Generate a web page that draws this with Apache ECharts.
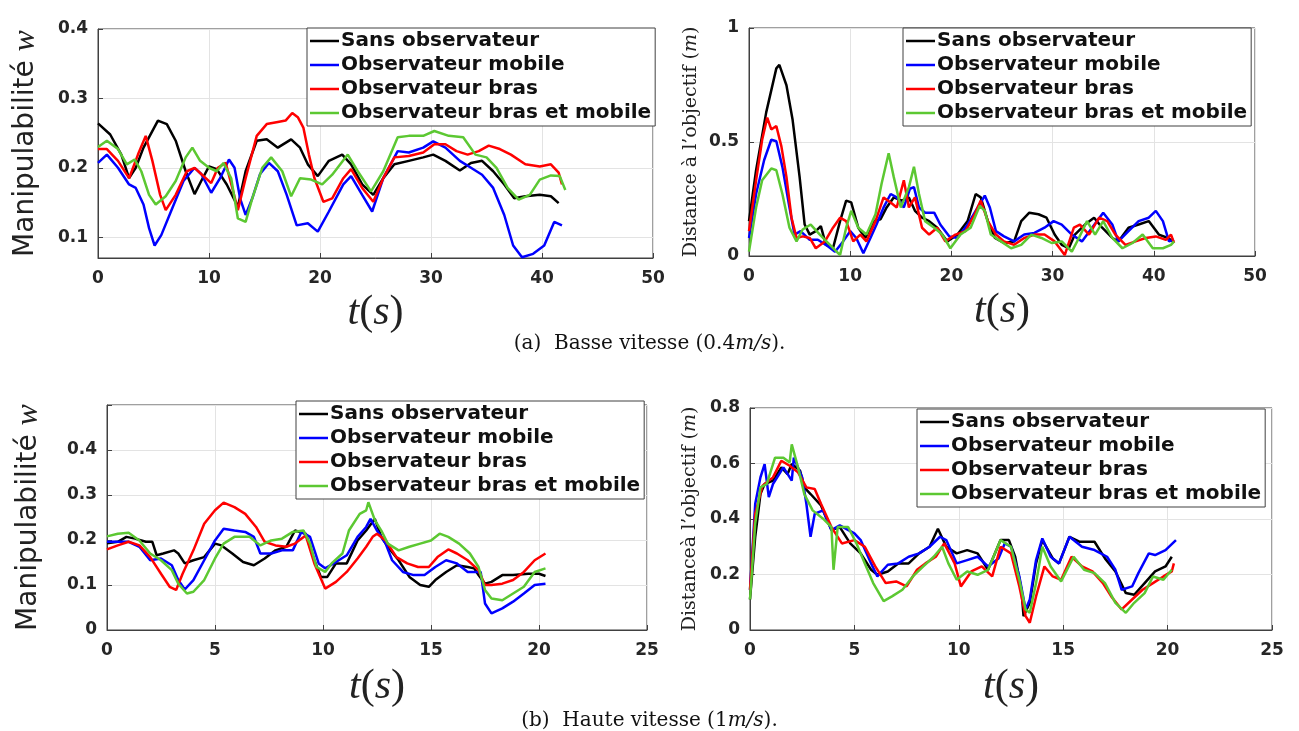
<!DOCTYPE html>
<html>
<head>
<meta charset="utf-8">
<script src="https://cdn.jsdelivr.net/npm/echarts@6/dist/echarts.min.js"></script>
<style>
html,body{margin:0;padding:0;background:#fff;}
#chart{width:1299px;height:731px;}
</style>
</head>
<body>
<div id="chart"></div>
<script>
// ---------- names ----------
const seriesNames = ['Sans observateur', 'Observateur mobile', 'Observateur bras', 'Observateur bras et mobile'];
const seriesColors = ['#000000', '#0000ff', '#ff0000', '#5cc832'];

// ---------- (a) low speed : manipulability ----------
const a1Sans = [[0,0.264],[1.1,0.248],[2.1,0.219],[2.8,0.185],[3.4,0.2],[4.1,0.229],[5.4,0.268],[6.2,0.263],[7.0,0.239],[7.9,0.195],[8.7,0.162],[9.3,0.181],[10,0.202],[10.7,0.198],[11.6,0.176],[12.6,0.144],[13.3,0.195],[14.3,0.239],[15.2,0.241],[16.2,0.229],[17.4,0.241],[18.2,0.229],[18.9,0.205],[19.8,0.188],[20.8,0.21],[22,0.219],[22.8,0.205],[23.8,0.176],[24.8,0.161],[25.7,0.185],[26.7,0.205],[28,0.21],[29.3,0.215],[30.2,0.219],[31.3,0.21],[32.6,0.196],[33.6,0.207],[34.6,0.21],[35.6,0.195],[36.6,0.176],[37.5,0.156],[38.5,0.159],[39.8,0.161],[40.8,0.159],[41.5,0.149]];
const a1Mobile = [[0,0.207],[0.8,0.219],[1.8,0.2],[2.8,0.176],[3.4,0.171],[4.1,0.147],[4.6,0.113],[5.1,0.088],[5.7,0.103],[6.7,0.142],[7.7,0.181],[8.7,0.2],[9.3,0.191],[10.2,0.164],[11,0.185],[11.8,0.212],[12.3,0.2],[12.8,0.156],[13.3,0.132],[13.9,0.156],[14.6,0.191],[15.4,0.207],[16.2,0.195],[17,0.161],[17.9,0.117],[18.9,0.12],[19.8,0.108],[20.8,0.137],[22.1,0.176],[22.8,0.188],[23.8,0.161],[24.7,0.137],[25.7,0.185],[27,0.224],[28,0.222],[29.3,0.229],[30.2,0.238],[31.3,0.229],[32.6,0.21],[33.6,0.2],[34.6,0.19],[35.6,0.171],[36.6,0.132],[37.4,0.088],[38.2,0.071],[39.2,0.076],[40.2,0.088],[41.1,0.122],[41.8,0.117]];
const a1Bras = [[0,0.227],[0.8,0.227],[1.8,0.21],[2.8,0.185],[3.6,0.219],[4.3,0.246],[4.9,0.21],[5.6,0.161],[6.1,0.139],[7,0.161],[8,0.195],[8.7,0.2],[9.3,0.191],[10.2,0.178],[10.8,0.2],[11.5,0.207],[12.1,0.171],[12.6,0.139],[13.3,0.185],[14.3,0.246],[15.2,0.263],[16.2,0.266],[16.9,0.268],[17.5,0.279],[18,0.273],[18.5,0.258],[19,0.219],[19.5,0.185],[20.3,0.151],[21.1,0.156],[22.1,0.185],[22.8,0.198],[23.8,0.171],[24.8,0.151],[25.7,0.185],[26.7,0.215],[28,0.217],[29.3,0.222],[30.3,0.234],[31.3,0.234],[32.3,0.224],[33.3,0.219],[34.3,0.224],[35.2,0.232],[36.2,0.227],[37.2,0.219],[38.5,0.205],[39.8,0.202],[40.8,0.205],[41.5,0.193],[41.8,0.176]];
const a1Both = [[0,0.23],[0.8,0.239],[1.8,0.227],[2.6,0.205],[3.3,0.212],[3.9,0.195],[4.6,0.161],[5.2,0.147],[6.1,0.159],[7,0.181],[7.9,0.215],[8.5,0.229],[9.2,0.21],[10,0.2],[10.7,0.195],[11.3,0.207],[12,0.185],[12.6,0.127],[13.3,0.122],[13.9,0.156],[14.8,0.2],[15.6,0.215],[16.6,0.195],[17.4,0.159],[18.2,0.185],[19.2,0.183],[20.2,0.176],[21.1,0.19],[22.5,0.219],[23.4,0.195],[24.6,0.166],[25.7,0.195],[27,0.244],[28,0.246],[29.3,0.246],[30.3,0.253],[31.6,0.246],[32.9,0.244],[34,0.219],[35,0.215],[35.9,0.2],[36.9,0.171],[37.9,0.154],[38.9,0.161],[39.8,0.183],[40.8,0.189],[41.6,0.188],[42.1,0.168]];

// ---------- (a) low speed : distance ----------
const a2Sans = [[0,0.153],[0.7,0.376],[1.7,0.63],[2.7,0.823],[3,0.838],[3.7,0.749],[4.3,0.6],[5,0.347],[5.5,0.138],[6,0.094],[6.6,0.109],[7.1,0.131],[7.6,0.049],[8.3,0.034],[9,0.153],[9.6,0.243],[10.1,0.235],[10.8,0.124],[11.5,0.079],[12.3,0.153],[13,0.161],[13.6,0.213],[14.3,0.257],[15.1,0.243],[15.8,0.257],[16.4,0.198],[17.1,0.168],[17.8,0.153],[18.6,0.124],[19.6,0.064],[20.6,0.094],[21.6,0.153],[22.4,0.272],[22.9,0.257],[23.6,0.153],[24.3,0.079],[25.2,0.057],[26.2,0.064],[26.9,0.153],[27.7,0.19],[28.6,0.183],[29.4,0.168],[30.2,0.094],[30.9,0.049],[31.6,0.034],[32.2,0.094],[33.2,0.138],[34.1,0.168],[34.9,0.124],[35.9,0.079],[36.5,0.064],[37.5,0.124],[38.5,0.138],[39.5,0.153],[40.5,0.094],[41.4,0.079],[41.9,0.064]];
const a2Mobile = [[0,0.079],[0.7,0.272],[1.5,0.421],[2.2,0.51],[2.7,0.503],[3.3,0.391],[4,0.213],[4.5,0.094],[5.1,0.109],[6,0.071],[6.8,0.071],[7.6,0.049],[8.5,0.019],[9.3,0.064],[10,0.109],[10.6,0.079],[11.3,0.012],[12,0.079],[12.6,0.138],[13.3,0.213],[14,0.272],[14.6,0.257],[15.3,0.213],[15.9,0.295],[16.3,0.302],[16.8,0.213],[17.4,0.19],[18.3,0.19],[18.9,0.138],[19.8,0.086],[20.6,0.079],[21.6,0.138],[22.6,0.213],[23.3,0.265],[23.8,0.213],[24.4,0.109],[25.2,0.086],[26.2,0.064],[27.2,0.094],[28.2,0.101],[29.2,0.124],[30.1,0.153],[30.9,0.138],[31.9,0.094],[32.9,0.064],[33.9,0.124],[35,0.19],[35.9,0.138],[36.5,0.064],[37.5,0.109],[38.5,0.153],[39.5,0.168],[40.2,0.198],[40.9,0.153],[41.5,0.064],[42,0.071]];
const a2Bras = [[0,0.109],[0.7,0.332],[1.3,0.51],[1.8,0.607],[2.2,0.555],[2.7,0.57],[3.2,0.481],[3.7,0.347],[4.2,0.168],[4.7,0.079],[5.3,0.086],[6,0.079],[6.6,0.034],[7.5,0.064],[8.3,0.124],[9,0.168],[9.6,0.153],[10.3,0.064],[11,0.094],[11.6,0.064],[12.5,0.153],[13.3,0.257],[14,0.235],[14.6,0.213],[15.3,0.332],[15.8,0.213],[16.4,0.257],[17.1,0.124],[17.8,0.094],[18.6,0.124],[19.4,0.064],[20.4,0.094],[21.4,0.109],[22.3,0.183],[22.9,0.243],[23.6,0.153],[24.4,0.094],[25.2,0.064],[26.2,0.049],[27.2,0.079],[28.2,0.094],[29.2,0.094],[30.2,0.064],[31.2,0.004],[32.1,0.124],[32.7,0.138],[33.6,0.094],[34.6,0.168],[35.4,0.153],[36.2,0.094],[37.2,0.049],[38.2,0.064],[39.2,0.079],[40.2,0.086],[41.2,0.071],[41.7,0.094],[42,0.057]];
const a2Both = [[0,0.019],[0.7,0.213],[1.3,0.332],[2.2,0.384],[2.7,0.376],[3.3,0.272],[4,0.124],[4.7,0.064],[5.3,0.116],[6.1,0.138],[7,0.094],[8,0.049],[9,0.004],[9.6,0.124],[10.1,0.198],[10.8,0.124],[11.6,0.094],[12.5,0.183],[13.1,0.317],[13.8,0.451],[14.3,0.347],[15,0.213],[15.8,0.302],[16.3,0.391],[16.8,0.272],[17.4,0.153],[18.3,0.124],[19.1,0.094],[19.9,0.034],[20.9,0.094],[21.9,0.124],[22.8,0.22],[23.3,0.198],[23.9,0.094],[24.9,0.064],[25.9,0.034],[26.9,0.049],[27.9,0.094],[28.9,0.079],[29.9,0.057],[30.9,0.064],[31.9,0.019],[32.6,0.079],[33.4,0.153],[34.2,0.094],[35,0.153],[35.9,0.079],[36.9,0.034],[37.9,0.057],[38.9,0.094],[39.9,0.034],[40.9,0.034],[41.7,0.049],[42,0.064]];

// ---------- (b) high speed : manipulability ----------
const b1Sans = [[0,0.193],[0.5,0.196],[0.9,0.207],[1.3,0.203],[1.8,0.196],[2.1,0.196],[2.3,0.166],[2.6,0.17],[3.1,0.177],[3.3,0.17],[3.6,0.148],[4,0.155],[4.5,0.162],[5,0.192],[5.3,0.188],[5.8,0.17],[6.3,0.151],[6.8,0.144],[7.3,0.159],[7.8,0.177],[8.3,0.185],[8.7,0.221],[9.2,0.214],[9.6,0.155],[9.9,0.118],[10.2,0.118],[10.6,0.148],[11.1,0.148],[11.6,0.199],[12.0,0.221],[12.4,0.247],[12.7,0.207],[13,0.185],[13.5,0.155],[14,0.118],[14.5,0.1],[14.9,0.096],[15.2,0.111],[15.7,0.129],[16.2,0.144],[16.7,0.14],[17,0.137],[17.2,0.122],[17.5,0.103],[17.8,0.107],[18.3,0.122],[18.8,0.122],[19.5,0.125],[20,0.125],[20.3,0.12]];
const b1Mobile = [[0,0.196],[0.5,0.196],[1,0.196],[1.5,0.185],[2,0.155],[2.5,0.159],[3,0.144],[3.3,0.111],[3.6,0.09],[4,0.111],[4.5,0.155],[5,0.199],[5.4,0.225],[5.9,0.221],[6.4,0.218],[6.8,0.207],[7.1,0.17],[7.6,0.17],[8.1,0.177],[8.6,0.177],[9,0.218],[9.4,0.207],[9.8,0.148],[10.1,0.137],[10.6,0.151],[11.1,0.166],[11.6,0.207],[12,0.229],[12.2,0.247],[12.5,0.221],[12.9,0.192],[13.2,0.155],[13.7,0.129],[14.2,0.122],[14.7,0.122],[15.2,0.14],[15.7,0.155],[16.2,0.148],[16.7,0.129],[17,0.129],[17.3,0.129],[17.5,0.059],[17.8,0.037],[18.3,0.048],[18.8,0.063],[19.3,0.081],[19.8,0.1],[20.3,0.103]];
const b1Bras = [[0,0.179],[0.5,0.188],[1,0.196],[1.5,0.188],[2,0.162],[2.5,0.125],[2.9,0.096],[3.2,0.089],[3.5,0.125],[4,0.177],[4.5,0.236],[5,0.266],[5.4,0.283],[5.9,0.273],[6.4,0.258],[6.9,0.229],[7.3,0.196],[7.8,0.188],[8.3,0.185],[8.7,0.192],[9.2,0.21],[9.6,0.148],[10.1,0.092],[10.6,0.107],[11.1,0.129],[11.6,0.159],[12,0.185],[12.3,0.207],[12.5,0.214],[12.9,0.199],[13.4,0.162],[13.9,0.148],[14.4,0.14],[14.9,0.14],[15.3,0.162],[15.8,0.179],[16.2,0.17],[16.7,0.155],[17.2,0.133],[17.5,0.1],[17.8,0.1],[18.3,0.103],[18.8,0.111],[19.3,0.129],[19.8,0.155],[20.3,0.17]];
const b1Both = [[0,0.208],[0.5,0.214],[1,0.216],[1.5,0.199],[2,0.17],[2.5,0.155],[3,0.133],[3.3,0.103],[3.7,0.081],[4,0.085],[4.5,0.111],[5,0.159],[5.4,0.192],[5.9,0.207],[6.6,0.207],[7.1,0.188],[7.6,0.199],[8.1,0.203],[8.6,0.218],[9.1,0.221],[9.4,0.192],[9.7,0.14],[10.1,0.129],[10.4,0.148],[10.9,0.17],[11.2,0.221],[11.7,0.258],[12,0.266],[12.1,0.284],[12.4,0.244],[12.7,0.221],[13,0.192],[13.5,0.177],[14,0.185],[14.5,0.192],[15,0.199],[15.4,0.214],[15.8,0.207],[16.3,0.192],[16.8,0.17],[17.2,0.14],[17.5,0.089],[17.8,0.07],[18.3,0.066],[18.8,0.081],[19.3,0.096],[19.8,0.129],[20.3,0.137]];

// ---------- (b) high speed : distance ----------
const b2Sans = [[0,0.11],[0.25,0.336],[0.5,0.49],[0.7,0.526],[1.1,0.538],[1.5,0.586],[1.8,0.562],[2,0.598],[2.4,0.574],[2.6,0.514],[2.9,0.49],[3.4,0.449],[3.9,0.36],[4.3,0.371],[4.8,0.312],[5.3,0.276],[5.8,0.217],[6.1,0.199],[6.6,0.211],[7.1,0.24],[7.6,0.24],[8.1,0.276],[8.6,0.3],[9,0.365],[9.4,0.3],[9.9,0.276],[10.4,0.288],[10.9,0.276],[11.4,0.217],[12,0.324],[12.4,0.324],[12.7,0.264],[13,0.145],[13.1,0.05],[13.4,0.098],[13.7,0.24],[14,0.324],[14.5,0.258],[14.8,0.24],[15.3,0.336],[15.8,0.318],[16.5,0.318],[17,0.258],[17.5,0.211],[18,0.133],[18.4,0.127],[18.9,0.169],[19.4,0.211],[19.9,0.229],[20.2,0.264]];
const b2Mobile = [[0,0.145],[0.25,0.455],[0.5,0.55],[0.7,0.598],[0.9,0.479],[1.1,0.526],[1.6,0.586],[2,0.538],[2.1,0.621],[2.5,0.55],[2.7,0.455],[2.9,0.336],[3.1,0.419],[3.5,0.431],[3.9,0.36],[4.3,0.377],[5,0.348],[5.3,0.324],[5.8,0.24],[6.1,0.193],[6.6,0.235],[7.1,0.24],[7.6,0.264],[8.1,0.276],[8.6,0.3],[9.1,0.336],[9.4,0.324],[9.9,0.24],[10.4,0.252],[10.9,0.264],[11.4,0.229],[11.9,0.258],[12.2,0.312],[12.5,0.3],[12.9,0.193],[13.2,0.074],[13.4,0.11],[13.7,0.252],[14,0.33],[14.4,0.264],[14.8,0.24],[15.3,0.336],[15.9,0.3],[16.5,0.288],[17.1,0.264],[17.5,0.217],[17.8,0.145],[18.3,0.157],[18.6,0.205],[19.1,0.276],[19.4,0.27],[19.9,0.288],[20.4,0.324]];
const b2Bras = [[0,0.145],[0.25,0.419],[0.6,0.52],[1.1,0.55],[1.5,0.61],[1.9,0.592],[2.3,0.568],[2.7,0.514],[3.1,0.508],[3.4,0.455],[3.9,0.371],[4.4,0.312],[5,0.324],[5.5,0.3],[6,0.229],[6.5,0.169],[7,0.175],[7.5,0.157],[8,0.217],[8.4,0.24],[8.9,0.264],[9.3,0.312],[9.8,0.24],[10.1,0.157],[10.6,0.211],[11.1,0.229],[11.6,0.193],[12,0.3],[12.5,0.276],[12.9,0.157],[13.2,0.05],[13.4,0.026],[13.7,0.121],[14.1,0.229],[14.5,0.193],[14.9,0.181],[15.4,0.264],[15.9,0.229],[16.4,0.211],[16.9,0.169],[17.3,0.121],[17.8,0.074],[18.3,0.11],[18.8,0.145],[19.3,0.169],[19.8,0.193],[20.2,0.211],[20.3,0.24]];
const b2Both = [[0,0.11],[0.25,0.383],[0.5,0.514],[0.8,0.526],[1.2,0.621],[1.6,0.621],[1.9,0.604],[2,0.669],[2.3,0.586],[2.6,0.49],[3,0.431],[3.5,0.401],[3.9,0.371],[4,0.217],[4.2,0.371],[4.7,0.371],[5.1,0.312],[5.5,0.24],[5.9,0.169],[6.4,0.104],[6.8,0.121],[7.3,0.145],[7.8,0.193],[8.3,0.229],[8.8,0.264],[9.2,0.3],[9.5,0.24],[9.9,0.181],[10.4,0.211],[10.9,0.199],[11.4,0.217],[12,0.324],[12.5,0.3],[12.9,0.181],[13.2,0.074],[13.4,0.062],[13.7,0.169],[14,0.3],[14.4,0.229],[14.9,0.175],[15.5,0.264],[16,0.217],[16.5,0.205],[17,0.169],[17.5,0.098],[18,0.062],[18.4,0.098],[18.9,0.133],[19.3,0.193],[19.8,0.181],[20.2,0.217]];

// ---------- axis ticks ----------
const a1YTicks = [0.1, 0.2, 0.3, 0.4];
const panelData = [
  [a1Sans, a1Mobile, a1Bras, a1Both],
  [a2Sans, a2Mobile, a2Bras, a2Both],
  [b1Sans, b1Mobile, b1Bras, b1Both],
  [b2Sans, b2Mobile, b2Bras, b2Both]
];

// ---------- styles ----------
const tickFont = {fontSize: 17, fontWeight: 'bold', color: '#262626', fontFamily: 'DejaVu Sans'};
const axisColor = '#404040';
const gridLineColor = '#e3e3e3';
const tNameRich = {
  i: {fontFamily: 'Liberation Serif', fontStyle: 'italic', fontSize: 42, color: '#222', fontWeight: 'normal'},
  u: {fontFamily: 'Liberation Serif', fontSize: 42, color: '#222', fontWeight: 'normal'}
};
const manipRich = {
  a: {fontFamily: 'DejaVu Sans', fontSize: 28, color: '#222', fontWeight: 'normal'},
  w: {fontFamily: 'Liberation Serif', fontStyle: 'italic', fontSize: 32, color: '#222', fontWeight: 'normal'}
};
const distRich = {
  a: {fontFamily: 'DejaVu Serif', fontSize: 19, color: '#222', fontWeight: 'normal'},
  m: {fontFamily: 'DejaVu Serif', fontStyle: 'italic', fontSize: 19, color: '#222', fontWeight: 'normal'}
};

const grids = [
  {left: 98, top: 29, width: 555, height: 229},
  {left: 749, top: 28, width: 506, height: 228},
  {left: 107, top: 405, width: 540, height: 225},
  {left: 750, top: 408, width: 522, height: 222}
].map(g => Object.assign({show: true, borderColor: axisColor, borderWidth: 1, backgroundColor: '#fff'}, g));

function xAxisFor(i, max, interval, gap) {
  return {
    type: 'value', gridIndex: i, min: 0, max: max, interval: interval,
    axisLine: {show: true, lineStyle: {color: axisColor}},
    axisTick: {show: true, inside: true, length: 5, lineStyle: {color: axisColor}},
    axisLabel: Object.assign({margin: 12}, tickFont),
    splitLine: {show: true, lineStyle: {color: gridLineColor, width: 1}},
    name: '{i|t}{u|(}{i|s}{u|)}',
    nameLocation: 'middle', nameGap: gap,
    nameTextStyle: {rich: tNameRich}
  };
}

function yAxisBase(i) {
  return {
    type: 'value', gridIndex: i,
    axisLine: {show: true, lineStyle: {color: axisColor}},
    axisTick: {show: true, inside: true, length: 5, lineStyle: {color: axisColor}},
    axisLabel: Object.assign({margin: 10}, tickFont),
    splitLine: {show: true, lineStyle: {color: gridLineColor, width: 1}},
    nameLocation: 'middle'
  };
}

const yAxes = [
  Object.assign(yAxisBase(0), {
    min: 0.07, max: 0.4,
    axisLabel: Object.assign({margin: 10, customValues: a1YTicks, formatter: v => v.toFixed(1)}, tickFont),
    axisTick: {show: true, inside: true, length: 5, lineStyle: {color: axisColor}, customValues: a1YTicks},
    name: '{a|Manipulabilité }{w|w}', nameGap: 56, nameTextStyle: {rich: manipRich}
  }),
  Object.assign(yAxisBase(1), {
    min: 0, max: 1, interval: 0.5,
    axisLabel: Object.assign({margin: 10, formatter: v => (v === 0 || v === 1) ? String(v) : v.toFixed(1)}, tickFont),
    name: '{a|Distance à l\u2019objectif (}{m|m}{a|)}', nameGap: 48, nameTextStyle: {rich: distRich}
  }),
  Object.assign(yAxisBase(2), {
    min: 0, max: 0.5, interval: 0.1,
    axisLabel: Object.assign({margin: 10, formatter: v => v >= 0.45 ? '' : (v === 0 ? '0' : v.toFixed(1))}, tickFont),
    name: '{a|Manipulabilité }{w|w}', nameGap: 62, nameTextStyle: {rich: manipRich}
  }),
  Object.assign(yAxisBase(3), {
    min: 0, max: 0.8, interval: 0.2,
    axisLabel: Object.assign({margin: 10, formatter: v => v === 0 ? '0' : v.toFixed(1)}, tickFont),
    name: '{a|Distanceà l\u2019objectif (}{m|m}{a|)}', nameGap: 50, nameTextStyle: {rich: distRich}
  })
];

const legendPos = [
  {left: 307, top: 28},
  {left: 903, top: 28},
  {left: 296, top: 401},
  {left: 917, top: 409}
];
const legends = legendPos.map(p => ({
  data: seriesNames.map((n, k) => ({name: n, icon: 'rect', itemStyle: {color: seriesColors[k]}})),
  orient: 'vertical', left: p.left, top: p.top,
  backgroundColor: '#fff', borderColor: axisColor, borderWidth: 1,
  padding: [3, 4, 3, 3], itemGap: 4, itemWidth: 29, itemHeight: 2.5,
  textStyle: {fontFamily: 'DejaVu Sans', fontWeight: 'bold', fontSize: 20, color: '#111', lineHeight: 20, padding: [0, 0, 0, -3]},
  selectedMode: false
}));

const series = [];
panelData.forEach((lines, pi) => {
  lines.forEach((d, si) => {
    series.push({
      name: seriesNames[si], type: 'line', xAxisIndex: pi, yAxisIndex: pi,
      data: d, showSymbol: false, symbol: 'none', smooth: false,
      lineStyle: {width: 2.5, color: seriesColors[si]},
      itemStyle: {color: seriesColors[si]},
      emphasis: {disabled: true}
    });
  });
});

const capRich = {
  u: {fontFamily: 'DejaVu Serif', fontSize: 20, color: '#111', fontWeight: 'normal'},
  i: {fontFamily: 'DejaVu Serif', fontStyle: 'italic', fontSize: 20, color: '#111', fontWeight: 'normal'}
};

const option = {
  animation: false,
  backgroundColor: '#fff',
  title: [
    {text: '{u|(a)  Basse vitesse (0.4}{i|m/s}{u|).}', left: 'center', top: 329, textStyle: {fontWeight: 'normal', rich: capRich}},
    {text: '{u|(b)  Haute vitesse (1}{i|m/s}{u|).}', left: 'center', top: 706, textStyle: {fontWeight: 'normal', rich: capRich}}
  ],
  grid: grids,
  xAxis: [xAxisFor(0, 50, 10, 34), xAxisFor(1, 50, 10, 34), xAxisFor(2, 25, 5, 36), xAxisFor(3, 25, 5, 36)],
  yAxis: yAxes,
  legend: legends,
  series: series
};

const chart = echarts.init(document.getElementById('chart'), null, {renderer: 'canvas'});
chart.setOption(option);
</script>
</body>
</html>
